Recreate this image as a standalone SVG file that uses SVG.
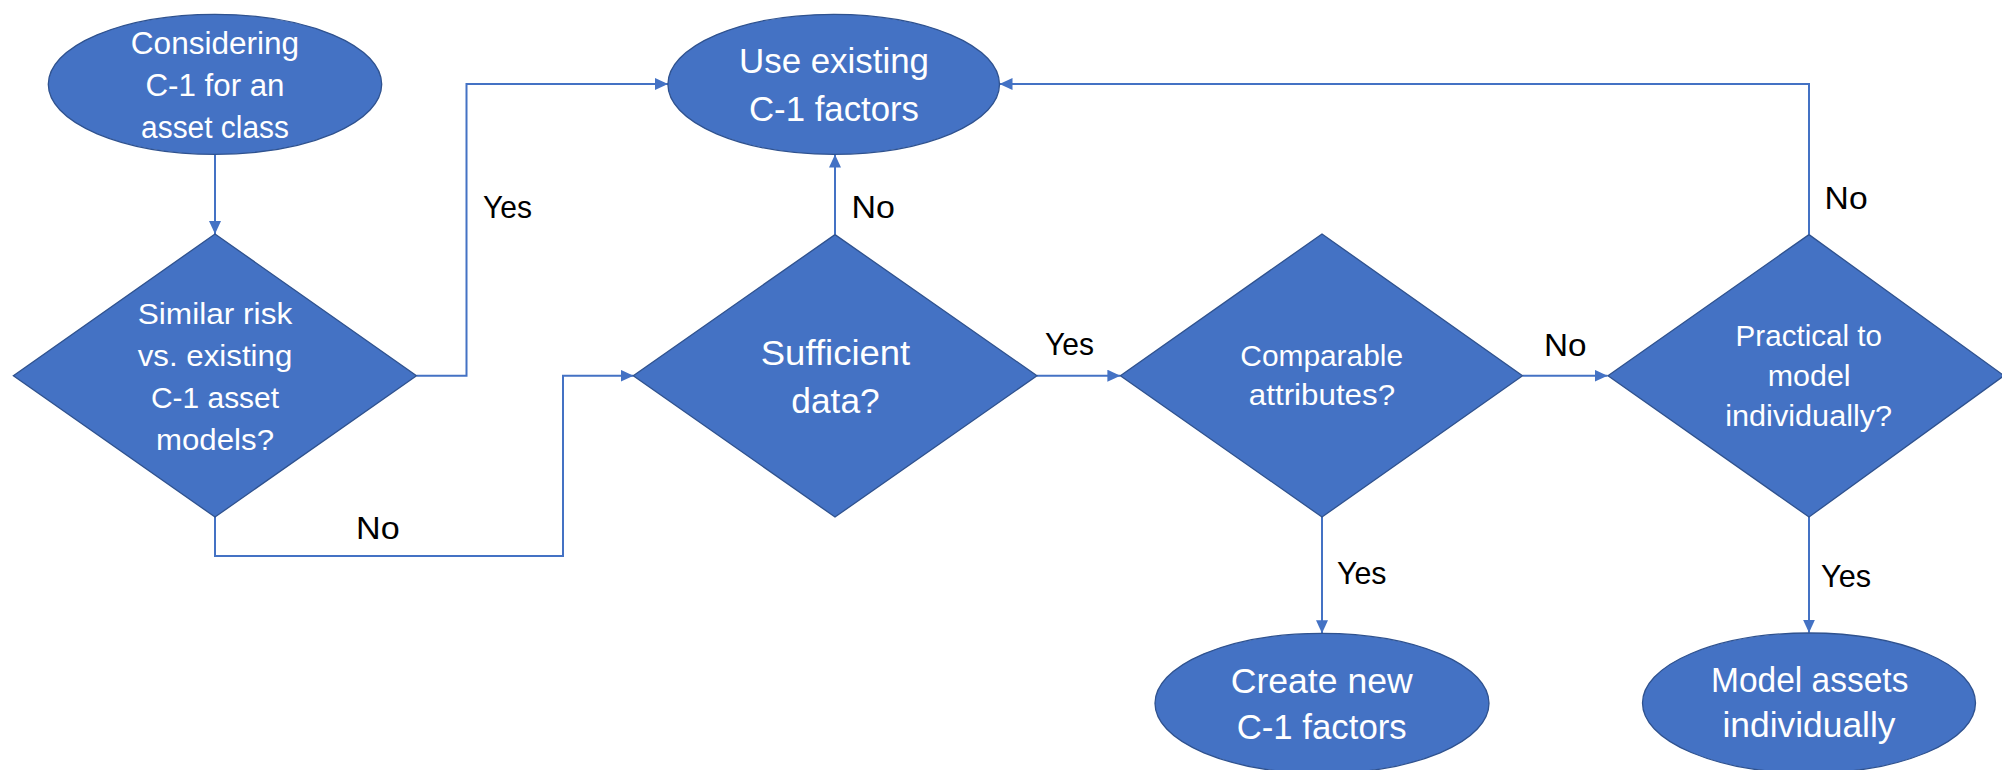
<svg xmlns="http://www.w3.org/2000/svg" width="2002" height="770" viewBox="0 0 2002 770">
<style>
.shape{fill:#4472C4;stroke:#2F528F;stroke-width:1.3}
.nt{fill:#FFFFFF;font-family:"Liberation Sans",Arial,sans-serif;text-anchor:middle}
.lb{fill:#000000;font-family:"Liberation Sans",Arial,sans-serif;font-size:32px}
.conn{fill:none;stroke:#4472C4;stroke-width:2;marker-end:url(#arr)}
</style>
<defs>
<marker id="arr" markerUnits="userSpaceOnUse" markerWidth="14" markerHeight="12" refX="13" refY="6" orient="auto">
<path d="M0,0 L13,6 L0,12 z" fill="#4472C4"/>
</marker>
</defs>
<rect width="2002" height="770" fill="#FFFFFF"/>
<g id="connectors">
<path class="conn" d="M215,154.3 V234"/>
<path class="conn" d="M416.5,375.7 H466.5 V84 H668"/>
<path class="conn" d="M215,517 V556 H563 V375.7 H633.5"/>
<path class="conn" d="M835,234.6 V154.5"/>
<path class="conn" d="M1037,375.7 H1120.4"/>
<path class="conn" d="M1522.5,375.7 H1607.5"/>
<path class="conn" d="M1809,234.6 V84 H999.5"/>
<path class="conn" d="M1322,517 V633.3"/>
<path class="conn" d="M1809,517 V632.7"/>
</g>
<g id="labels">
<text class="lb" x="483" y="218" textLength="49" lengthAdjust="spacingAndGlyphs">Yes</text>
<text class="lb" x="356" y="539.3" textLength="43.6" lengthAdjust="spacingAndGlyphs">No</text>
<text class="lb" x="851.5" y="218" textLength="43.4" lengthAdjust="spacingAndGlyphs">No</text>
<text class="lb" x="1045" y="355.4" textLength="49" lengthAdjust="spacingAndGlyphs">Yes</text>
<text class="lb" x="1544" y="356" textLength="42.5" lengthAdjust="spacingAndGlyphs">No</text>
<text class="lb" x="1824.6" y="209" textLength="43" lengthAdjust="spacingAndGlyphs">No</text>
<text class="lb" x="1337" y="584" textLength="49.5" lengthAdjust="spacingAndGlyphs">Yes</text>
<text class="lb" x="1821" y="586.7" textLength="50" lengthAdjust="spacingAndGlyphs">Yes</text>
</g>
<g id="start">
<ellipse class="shape" cx="215" cy="84.3" rx="166.7" ry="70"/>
<text class="nt" font-size="31" x="215" y="54.3" textLength="168.3" lengthAdjust="spacingAndGlyphs">Considering</text>
<text class="nt" font-size="31" x="215" y="95.7" textLength="139" lengthAdjust="spacingAndGlyphs">C-1 for an</text>
<text class="nt" font-size="31" x="215" y="137.5" textLength="147.8" lengthAdjust="spacingAndGlyphs">asset class</text>
</g>
<g id="use-existing">
<ellipse class="shape" cx="833.7" cy="84.3" rx="165.8" ry="70"/>
<text class="nt" font-size="35" x="834" y="73.2" textLength="190" lengthAdjust="spacingAndGlyphs">Use existing</text>
<text class="nt" font-size="35" x="834" y="120.7" textLength="170" lengthAdjust="spacingAndGlyphs">C-1 factors</text>
</g>
<g id="similar-risk">
<polygon class="shape" points="215,234 416.5,375.7 215,517 13.4,375.7"/>
<text class="nt" font-size="30" x="215" y="324.3" textLength="154.5" lengthAdjust="spacingAndGlyphs">Similar risk</text>
<text class="nt" font-size="30" x="215" y="366" textLength="154.5" lengthAdjust="spacingAndGlyphs">vs. existing</text>
<text class="nt" font-size="30" x="215" y="408.2" textLength="128" lengthAdjust="spacingAndGlyphs">C-1 asset</text>
<text class="nt" font-size="30" x="215" y="450" textLength="118" lengthAdjust="spacingAndGlyphs">models?</text>
</g>
<g id="sufficient-data">
<polygon class="shape" points="835,234.6 1037,375.7 835,517 633.3,375.7"/>
<text class="nt" font-size="35" x="835.5" y="365" textLength="149.5" lengthAdjust="spacingAndGlyphs">Sufficient</text>
<text class="nt" font-size="35" x="835.5" y="412.5" textLength="88.3" lengthAdjust="spacingAndGlyphs">data?</text>
</g>
<g id="comparable">
<polygon class="shape" points="1322,234 1522.5,375.7 1322,517 1120.4,375.7"/>
<text class="nt" font-size="29" x="1321.7" y="366" textLength="162.7" lengthAdjust="spacingAndGlyphs">Comparable</text>
<text class="nt" font-size="29" x="1322" y="405.4" textLength="146.3" lengthAdjust="spacingAndGlyphs">attributes?</text>
</g>
<g id="practical">
<polygon class="shape" points="1809,234.6 2004,375.7 1809,517 1608,375.7"/>
<text class="nt" font-size="29" x="1808.8" y="346.4" textLength="146.4" lengthAdjust="spacingAndGlyphs">Practical to</text>
<text class="nt" font-size="29" x="1809.2" y="386.4" textLength="82.8" lengthAdjust="spacingAndGlyphs">model</text>
<text class="nt" font-size="29" x="1808.7" y="425.7" textLength="167" lengthAdjust="spacingAndGlyphs">individually?</text>
</g>
<g id="create-new">
<ellipse class="shape" cx="1322" cy="703.3" rx="167" ry="70"/>
<text class="nt" font-size="35" x="1321.7" y="692.7" textLength="182" lengthAdjust="spacingAndGlyphs">Create new</text>
<text class="nt" font-size="35" x="1321.7" y="739.3" textLength="170" lengthAdjust="spacingAndGlyphs">C-1 factors</text>
</g>
<g id="model-individually">
<ellipse class="shape" cx="1809" cy="703" rx="166.5" ry="70"/>
<text class="nt" font-size="35" x="1809.7" y="691.7" textLength="197.4" lengthAdjust="spacingAndGlyphs">Model assets</text>
<text class="nt" font-size="35" x="1809" y="736.7" textLength="173" lengthAdjust="spacingAndGlyphs">individually</text>
</g>
</svg>
